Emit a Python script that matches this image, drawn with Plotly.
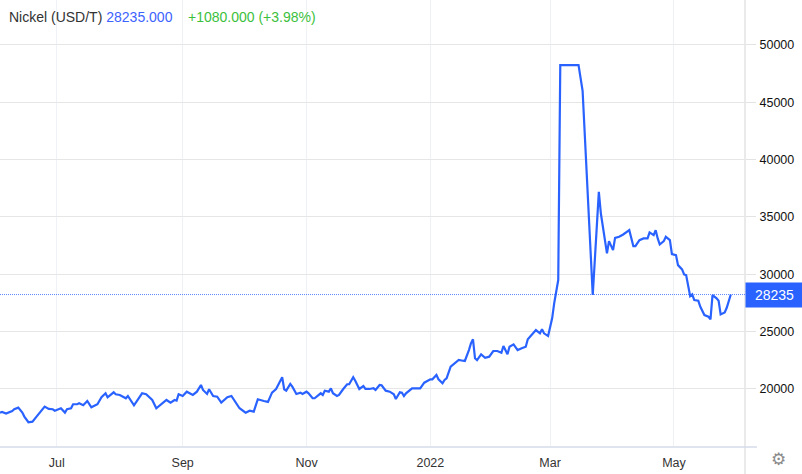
import plotly.graph_objects as go

# ---- data ----
dates = [
    "2021-06-03", "2021-06-04", "2021-06-06", "2021-06-09", "2021-06-10", "2021-06-12", "2021-06-14",
    "2021-06-15", "2021-06-17", "2021-06-19", "2021-06-21", "2021-06-24", "2021-06-25", "2021-06-27",
    "2021-06-29", "2021-06-30", "2021-07-03", "2021-07-05", "2021-07-06", "2021-07-08", "2021-07-09",
    "2021-07-11", "2021-07-12", "2021-07-14", "2021-07-16", "2021-07-18", "2021-07-20", "2021-07-21",
    "2021-07-23", "2021-07-25", "2021-07-26", "2021-07-29", "2021-07-30", "2021-08-01", "2021-08-04",
    "2021-08-05", "2021-08-08", "2021-08-10", "2021-08-12", "2021-08-14", "2021-08-17", "2021-08-19",
    "2021-08-22", "2021-08-24", "2021-08-26", "2021-08-28", "2021-08-29", "2021-08-30", "2021-09-01",
    "2021-09-03", "2021-09-06", "2021-09-08", "2021-09-10", "2021-09-11", "2021-09-13", "2021-09-14",
    "2021-09-16", "2021-09-18", "2021-09-20", "2021-09-23", "2021-09-25", "2021-09-27", "2021-09-29",
    "2021-10-02", "2021-10-04", "2021-10-06", "2021-10-08", "2021-10-11", "2021-10-13", "2021-10-15",
    "2021-10-17", "2021-10-20", "2021-10-21", "2021-10-22", "2021-10-24", "2021-10-25", "2021-10-27",
    "2021-10-29", "2021-10-30", "2021-11-01", "2021-11-02", "2021-11-04", "2021-11-05", "2021-11-08",
    "2021-11-09", "2021-11-10", "2021-11-12", "2021-11-13", "2021-11-14", "2021-11-16", "2021-11-17",
    "2021-11-19", "2021-11-21", "2021-11-22", "2021-11-24", "2021-11-25", "2021-11-27", "2021-11-29",
    "2021-11-30", "2021-12-02", "2021-12-04", "2021-12-05", "2021-12-07", "2021-12-08", "2021-12-10",
    "2021-12-12", "2021-12-14", "2021-12-15", "2021-12-17", "2021-12-18", "2021-12-19", "2021-12-20",
    "2021-12-22", "2021-12-23", "2021-12-25", "2021-12-27", "2021-12-29", "2022-01-01", "2022-01-02",
    "2022-01-04", "2022-01-05", "2022-01-07", "2022-01-08", "2022-01-09", "2022-01-11", "2022-01-13",
    "2022-01-15", "2022-01-17", "2022-01-18", "2022-01-20", "2022-01-21", "2022-01-22", "2022-01-23",
    "2022-01-24", "2022-01-26", "2022-01-28", "2022-01-30", "2022-02-01", "2022-02-03", "2022-02-05",
    "2022-02-06", "2022-02-08", "2022-02-09", "2022-02-11", "2022-02-13", "2022-02-15", "2022-02-17",
    "2022-02-18", "2022-02-20", "2022-02-22", "2022-02-24", "2022-02-25", "2022-02-26", "2022-02-28",
    "2022-03-02", "2022-03-03", "2022-03-05", "2022-03-06", "2022-03-15", "2022-03-17", "2022-03-22",
    "2022-03-25", "2022-03-26", "2022-03-28", "2022-03-29", "2022-03-30", "2022-04-01", "2022-04-02",
    "2022-04-04", "2022-04-06", "2022-04-09", "2022-04-11", "2022-04-12", "2022-04-14", "2022-04-16",
    "2022-04-18", "2022-04-19", "2022-04-21", "2022-04-22", "2022-04-23", "2022-04-24", "2022-04-26",
    "2022-04-27", "2022-04-29", "2022-04-30", "2022-05-02", "2022-05-03", "2022-05-05", "2022-05-06",
    "2022-05-07", "2022-05-09", "2022-05-10", "2022-05-11", "2022-05-13", "2022-05-14", "2022-05-16",
    "2022-05-18", "2022-05-19", "2022-05-20", "2022-05-22", "2022-05-23", "2022-05-24", "2022-05-26",
    "2022-05-27", "2022-05-29",
]
prices = [
    17940, 18000, 17850, 18080, 18230, 18370, 17940,
    17590, 17100, 17150, 17590, 18230, 18460, 18260,
    18230, 18110, 18320, 17940, 18230, 18320, 18670,
    18670, 18750, 18580, 18955, 18405, 18605, 18670,
    19280, 19625, 19280, 19710, 19540, 19480, 19190,
    19390, 18580, 19105, 19625, 19540, 19040, 18320,
    18750, 19040, 18805, 19040, 18980, 19540, 19390,
    19765, 19480, 19765, 20350, 19915, 19565, 19975,
    19390, 19330, 18805, 19280, 19390, 18895, 18320,
    17935, 18110, 18020, 19105, 18955, 18870, 19680,
    20000, 21020, 19975, 19850, 20435, 20200, 19565,
    19680, 19565, 19765, 19625, 19190, 19190, 19625,
    19480, 19850, 19765, 20060, 19625, 19390, 19480,
    19975, 20410, 20410, 21020, 20725, 20000, 20260,
    20000, 20000, 20060, 19915, 20350, 20320, 19850,
    19765, 19540, 19130, 19710, 19680, 19390, 19625,
    19975, 20060, 20060, 20060, 20550, 20845, 20845,
    21220, 20845, 20500, 20785, 20930, 21940, 22240,
    22525, 22465, 22440, 23395, 23980, 24330, 22675,
    22525, 23020, 22725, 22815, 23310, 23310, 23160,
    23745, 23020, 23685, 23890, 23395, 23545, 23685,
    24330, 24700, 25140, 24850, 25200, 24850, 24615,
    26160, 27465, 29500, 48241, 48241, 46000, 28190,
    37185, 35300, 32690, 31820, 32890, 32110, 33180,
    33270, 33475, 33850, 32455, 32455, 32980, 33125,
    33125, 33650, 33415, 33850, 33125, 32600, 32890,
    33270, 32980, 31760, 31670, 30800, 30425, 29990,
    29930, 28100, 28250, 27750, 27690, 27170, 26445,
    26300, 26070, 28190, 27900, 27690, 26505, 26680,
    27080, 28235,
]
last_price = 28235
change = 1080.0
change_pct = 3.98
y_ticks = [20000, 25000, 30000, 35000, 40000, 45000, 50000]
x_ticks = ["2021-07-01", "2021-09-01", "2021-11-01", "2022-01-01", "2022-03-01", "2022-05-01"]
x_labels = ["Jul", "Sep", "Nov", "2022", "Mar", "May"]

BLUE = "#2962ff"
FONT = "Arial, Liberation Sans, sans-serif"

fig = go.Figure()
fig.add_trace(go.Scatter(
    x=dates, y=prices, mode="lines",
    line=dict(color=BLUE, width=2.2),
    hoverinfo="skip", showlegend=False,
))

fig.update_layout(
    width=802, height=474,
    margin=dict(l=0, r=57, t=0, b=27),
    paper_bgcolor="white", plot_bgcolor="white",
    font=dict(family=FONT, size=12.5, color="#333333"),
    xaxis=dict(
        type="date",
        range=["2021-06-03", "2022-06-05"],
        tickvals=x_ticks, ticktext=x_labels,
        showgrid=True, gridcolor="#eef1f5", gridwidth=1,
        showline=False, zeroline=False,
        ticks="outside", ticklen=4, tickcolor="rgba(0,0,0,0)",
        tickfont=dict(size=12.5, color="#333333"),
    ),
    yaxis=dict(
        side="right",
        range=[14940, 53920],
        tickvals=y_ticks,
        ticktext=[str(v) for v in y_ticks],
        showgrid=True, gridcolor="#e6e6e6", gridwidth=1,
        showline=False, zeroline=False,
        ticks="outside", ticklen=10, tickcolor="#e3e3e3",
        tickfont=dict(size=12.5, color="#111111"),
        ticklabelstandoff=1,
    ),
)

# axis frame lines (right axis line and bottom axis line)
fig.add_shape(type="line", xref="paper", yref="paper", x0=1, x1=1, y0=-0.07, y1=1,
              line=dict(color="#e3e3e3", width=1.5))
fig.add_shape(type="line", xref="paper", yref="paper", x0=0, x1=1.016, y0=0, y1=0,
              line=dict(color="#d4dbea", width=1.5))

# dotted last-price line
fig.add_shape(type="line", xref="paper", yref="y", x0=0, x1=1, y0=last_price, y1=last_price,
              line=dict(color="rgba(41,98,255,0.75)", width=1, dash="1px,1px"))

# last price label box
fig.add_annotation(
    xref="paper", yref="y", x=1, y=last_price, xanchor="left", yanchor="middle",
    text=str(last_price), showarrow=False,
    bgcolor=BLUE, font=dict(color="white", size=14, family=FONT),
    width=55, height=22, borderpad=1, align="center",
)

# header
header = (
    "Nickel (USD/T) "
    f"<span style='color:#3d63ff'>{last_price:.3f}</span>"
    "\u00a0\u00a0\u00a0 "
    f"<span style='color:#3cbf3c'>+{change:.3f} (+{change_pct:.2f}%)</span>"
)
fig.add_annotation(
    xref="paper", yref="paper", x=0, y=1, xanchor="left", yanchor="middle",
    xshift=7, yshift=-17, text=header, showarrow=False,
    font=dict(size=14, color="#333333", family=FONT),
)

# settings gear
fig.add_annotation(
    xref="paper", yref="paper", x=1, y=0, xanchor="center", yanchor="middle",
    xshift=33, yshift=-12, text="\u2699", showarrow=False,
    font=dict(size=17, color="#8a8a8a", family="DejaVu Sans"),
)

fig.write_html("out.html")
